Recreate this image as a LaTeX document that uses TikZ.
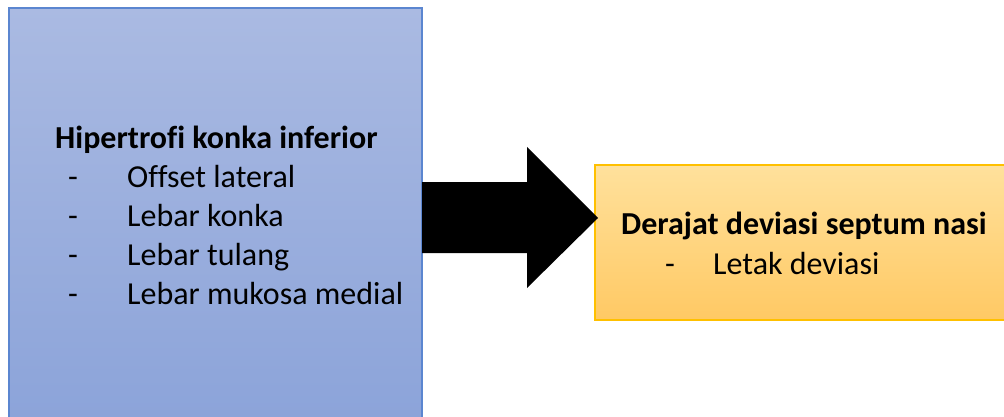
\documentclass[tikz,border=0pt]{standalone}
\usepackage{fontspec}
\setmainfont{Carlito}[Ligatures=NoCommon]
\definecolor{bluetop}{HTML}{AABAE2}
\definecolor{bluebot}{HTML}{8BA3D9}
\definecolor{blueedge}{HTML}{5B86D0}
\definecolor{yeltop}{HTML}{FFE19C}
\definecolor{yelbot}{HTML}{FFC964}
\definecolor{yeledge}{HTML}{FFC000}
\begin{document}
\begin{tikzpicture}[x=1pt,y=-1pt,
  txt/.style={anchor=base west, inner sep=0pt, font=\fontsize{32}{38}\selectfont},
  ttl/.style={txt, font=\fontsize{32}{38}\selectfont\bfseries}]
\useasboundingbox (0,0) rectangle (1004,417);
% left box
\shade[top color=bluetop, bottom color=bluebot] (9,8) rectangle (422,430);
\draw[blueedge, line width=1.2pt] (9,430) -- (9,8) -- (422,8) -- (422,430);
\coordinate (L) at (422,218);
% right box
\shade[top color=yeltop, bottom color=yelbot] (595,165) rectangle (1010,320);
\draw[yeledge, line width=1.5pt] (1010,165) -- (595,165) -- (595,320) -- (1010,320);
\coordinate (R) at (598,218);
% arrow
\fill[black] (L |- 0,182) -- (527,182) -- (527,147) -- (R) -- (527,288) -- (527,253) -- (L |- 0,253) -- cycle;
% left text
\node[ttl] (t1) at (55,149) {Hipertrofi konka inferior};
\node[txt] (d1) at (68,187) {-};
\node[txt] (a1) at (127,187) {Offset lateral};
\node[txt] (d2) at (68,226) {-};
\node[txt] (a2) at (127,226) {Lebar konka};
\node[txt] (d3) at (68,265) {-};
\node[txt] (a3) at (127,265) {Lebar tulang};
\node[txt] (d4) at (68,304) {-};
\node[txt] (a4) at (127,304) {Lebar mukosa medial};
% right text
\node[ttl] (t2) at (621,234) {Derajat deviasi septum nasi};
\node[txt] (d5) at (665,274) {-};
\node[txt] (b1) at (713,274) {Letak deviasi};
\end{tikzpicture}
\end{document}
